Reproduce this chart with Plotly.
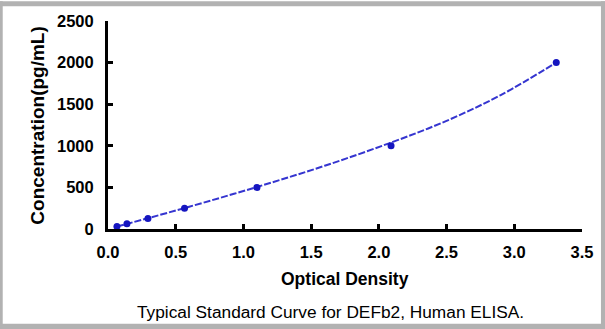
import plotly.graph_objects as go

# Data
od_values = [0.066, 0.14, 0.295, 0.565, 1.10, 2.09, 3.31]
conc_values = [31.25, 62.5, 125, 250, 500, 1000, 2000]

# fitted curve
curve_od = [0.066, 0.3, 0.6, 1.1, 1.6, 2.09, 2.5, 2.9, 3.31]
curve_conc = [30, 132, 268, 505, 760, 1039, 1300, 1610, 2000]

x_ticks = [0.0, 0.5, 1.0, 1.5, 2.0, 2.5, 3.0, 3.5]
x_tick_text = ["0.0", "0.5", "1.0", "1.5", "2.0", "2.5", "3.0", "3.5"]
y_ticks = [0, 500, 1000, 1500, 2000, 2500]
y_tick_text = ["0", "500", "1000", "1500", "2000", "2500"]

W, H = 605, 329
L, R, T, B = 108, 22, 18, 100
PW, PH = W - L - R, H - T - B


def px_x(p):
    return (p - L) / PW


def px_y(p):
    return (H - B - p) / PH


FONT = "Liberation Sans, Arial, sans-serif"

fig = go.Figure()
fig.add_trace(go.Scatter(
    x=curve_od, y=curve_conc, mode="lines",
    line=dict(color="#3535d0", width=2, dash="7px,2px", shape="spline", smoothing=1.0),
    hoverinfo="skip", showlegend=False,
))
fig.add_trace(go.Scatter(
    x=od_values, y=conc_values, mode="markers",
    marker=dict(color="#1515c0", size=7),
    showlegend=False,
))

axis_common = dict(
    showgrid=False, zeroline=False, showline=True, linecolor="black", linewidth=3,
    ticks="inside", ticklen=5, tickwidth=3, tickcolor="black",
    tickfont=dict(family=FONT, size=16.5, color="black", weight="bold"),
)
fig.update_xaxes(range=[0, 3.5], tickvals=x_ticks, ticktext=x_tick_text,
                 ticklabelstandoff=6, **axis_common)
fig.update_yaxes(range=[0, 2500], tickvals=y_ticks, ticktext=y_tick_text,
                 ticklabelstandoff=8, **axis_common)

annotations = [
    dict(text="Optical Density", x=px_x(346), y=px_y(280), xref="paper", yref="paper",
         showarrow=False, xanchor="center", yanchor="middle",
         font=dict(family=FONT, size=17.5, color="black", weight="bold")),
    dict(text="Concentration(pg/mL)", x=px_x(37), y=px_y(124), xref="paper", yref="paper",
         showarrow=False, xanchor="center", yanchor="middle", textangle=-90,
         font=dict(family=FONT, size=19, color="black", weight="bold")),
    dict(text="Typical Standard Curve for DEFb2, Human ELISA.", x=px_x(331), y=px_y(313),
         xref="paper", yref="paper", showarrow=False, xanchor="center", yanchor="middle",
         font=dict(family=FONT, size=17.3, color="black")),
]

border = "#b2b2b2"
shapes = []
for (x0, y0, x1, y1) in [(-2, -2, 2.5, H + 2), (-2, -2, W + 2, 3),
                         (602, -2, W + 2, H + 2), (-2, 325, W + 2, H + 2)]:
    shapes.append(dict(type="rect", xref="paper", yref="paper",
                       x0=px_x(x0), x1=px_x(x1), y0=px_y(y1), y1=px_y(y0),
                       fillcolor=border, line=dict(width=0), layer="above"))

fig.update_layout(
    width=W, height=H,
    margin=dict(l=L, r=R, t=T, b=B),
    paper_bgcolor="white", plot_bgcolor="white",
    annotations=annotations, shapes=shapes,
)

fig.write_html("out.html")
